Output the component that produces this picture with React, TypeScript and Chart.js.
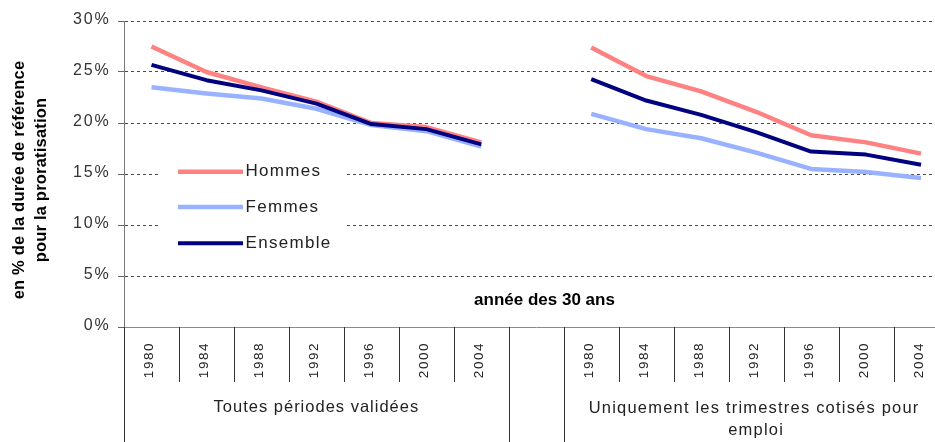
import React, { useEffect, useRef } from 'react';
import { Chart, registerables } from 'chart.js';

Chart.register(...registerables);

// ---- data ----
const years = ['1980', '1984', '1988', '1992', '1996', '2000', '2004'];
const groupToutes = 'Toutes périodes validées';
const groupCotises = ['Uniquement les trimestres cotisés pour', 'emploi'];
const yTicks = [0, 5, 10, 15, 20, 25, 30];
const axisTitle = ['en % de la durée de référence', 'pour la proratisation'];
const xTitle = 'année des 30 ans';

const hommesToutes = [27.5, 25.0, 23.5, 22.1, 20.0, 19.6, 18.1];
const femmesToutes = [23.5, 22.9, 22.4, 21.4, 19.8, 19.2, 17.7];
const ensembleToutes = [25.7, 24.2, 23.2, 21.9, 19.9, 19.4, 17.9];

const hommesCotises = [27.4, 24.6, 23.1, 21.1, 18.8, 18.1, 17.0];
const femmesCotises = [20.9, 19.4, 18.5, 17.1, 15.5, 15.2, 14.6];
const ensembleCotises = [24.3, 22.2, 20.8, 19.1, 17.2, 16.9, 15.9];

const seriesNames = ['Hommes', 'Femmes', 'Ensemble'];
const seriesColors = ['#FF8282', '#98B2FF', '#000080'];

const categories = [...years, '', ...years];
const joinGroups = (a: number[], b: number[]) => [...a, null, ...b];

const FONT = '"Liberation Sans", Arial, sans-serif';

const overlay = {
  id: 'overlay',
  afterDraw(chart: any) {
    const ctx: CanvasRenderingContext2D = chart.ctx;
    const xs = chart.scales.x;
    const ys = chart.scales.y;
    const area = chart.chartArea;
    const step = xs.getPixelForValue(1) - xs.getPixelForValue(0);
    const n = categories.length;
    const c: any = ctx;
    ctx.save();

    // y tick labels
    ctx.font = `16px ${FONT}`;
    ctx.fillStyle = '#333';
    ctx.textAlign = 'right';
    ctx.textBaseline = 'middle';
    c.letterSpacing = '1.8px';
    yTicks.forEach((v) => ctx.fillText(v + '%', 110.5, ys.getPixelForValue(v) - 1));

    // y title (rotated)
    ctx.font = `bold 16.5px ${FONT}`;
    ctx.fillStyle = '#000';
    ctx.textAlign = 'center';
    ctx.textBaseline = 'alphabetic';
    c.letterSpacing = '0.2px';
    [23.5, 46].forEach((bx, i) => {
      ctx.save();
      ctx.translate(bx, 180);
      ctx.rotate(-Math.PI / 2);
      ctx.fillText(axisTitle[i], 0, 0);
      ctx.restore();
    });

    // category dividers
    const bounds: number[] = [];
    for (let i = 0; i < n; i++) bounds.push(xs.getPixelForValue(i) - step / 2);
    bounds.push(xs.getPixelForValue(n - 1) + step / 2);
    ctx.strokeStyle = '#333';
    ctx.lineWidth = 1;
    bounds.forEach((b, i) => {
      const full = i === 0 || i === 7 || i === 8 || i === n;
      const xx = Math.round(b) + 0.5;
      ctx.beginPath();
      ctx.moveTo(xx, area.bottom);
      ctx.lineTo(xx, full ? 442 : 382);
      ctx.stroke();
    });

    // year labels
    ctx.font = `13.5px ${FONT}`;
    ctx.fillStyle = '#222';
    ctx.textAlign = 'center';
    ctx.textBaseline = 'alphabetic';
    c.letterSpacing = '1.6px';
    categories.forEach((lab, i) => {
      if (!lab) return;
      ctx.save();
      ctx.translate(xs.getPixelForValue(i) + 1.5, 360);
      ctx.rotate(-Math.PI / 2);
      ctx.fillText(lab, 0, 0);
      ctx.restore();
    });

    // group labels
    ctx.font = `16.5px ${FONT}`;
    c.letterSpacing = '1px';
    ctx.fillText(groupToutes, (bounds[0] + bounds[7]) / 2, 412);
    const g2 = (bounds[8] + bounds[n]) / 2;
    c.letterSpacing = '1.2px';
    ctx.fillText(groupCotises[0], g2 - 2, 413);
    ctx.fillText(groupCotises[1], g2, 435);

    // x title
    ctx.font = `bold 17px ${FONT}`;
    ctx.fillStyle = '#000';
    c.letterSpacing = '0px';
    ctx.fillText(xTitle, 544.5, 305);

    // legend
    ctx.fillStyle = '#fff';
    ctx.fillRect(160, 140, 185, 122);
    const ly = [171.7, 207, 243.3];
    seriesNames.forEach((name, i) => {
      ctx.strokeStyle = seriesColors[i];
      ctx.lineWidth = i === 2 ? 4 : 4.5;
      ctx.beginPath();
      ctx.moveTo(178, ly[i]);
      ctx.lineTo(243, ly[i]);
      ctx.stroke();
      ctx.font = `17px ${FONT}`;
      ctx.fillStyle = '#222';
      ctx.textAlign = 'left';
      c.letterSpacing = '1.3px';
      ctx.fillText(name, 245.5, ly[i] + 4.5);
    });

    c.letterSpacing = '0px';
    ctx.restore();
  },
};

export default function App() {
  const ref = useRef<HTMLCanvasElement>(null);

  useEffect(() => {
    if (!ref.current) return;
    const hommes = joinGroups(hommesToutes, hommesCotises);
    const femmes = joinGroups(femmesToutes, femmesCotises);
    const ensemble = joinGroups(ensembleToutes, ensembleCotises);
    const mk = (label: string, data: any[], color: string, width: number) => ({
      label,
      data,
      borderColor: color,
      backgroundColor: color,
      borderWidth: width,
      pointRadius: 0,
      pointHoverRadius: 0,
      tension: 0,
      fill: false,
      spanGaps: false,
      borderJoinStyle: 'round' as const,
    });
    const chart = new Chart(ref.current, {
      type: 'line',
      data: {
        labels: categories,
        datasets: [
          mk(seriesNames[2], ensemble, seriesColors[2], 4),
          mk(seriesNames[0], hommes, seriesColors[0], 4.5),
          mk(seriesNames[1], femmes, seriesColors[1], 4.5),
        ],
      },
      options: {
        animation: false,
        responsive: false,
        devicePixelRatio: 1,
        layout: { padding: { top: 21, left: 0, right: 1.5, bottom: 0 } },
        plugins: {
          legend: { display: false },
          tooltip: { enabled: false },
          title: { display: false },
        },
        events: [],
        scales: {
          x: {
            type: 'category',
            offset: true,
            grid: { display: false },
            ticks: { display: false },
            border: { display: true, color: '#8a8a8a', width: 1 },
            afterFit: (s: any) => {
              s.height = 115;
            },
          },
          y: {
            min: 0,
            max: 30,
            ticks: { display: false, stepSize: 5 },
            grid: {
              color: '#4a4a4a',
              lineWidth: 1,
              drawTicks: true,
              tickLength: 6,
              tickColor: '#666',
            },
            border: { display: true, color: '#777', width: 1, dash: [3, 3] },
            afterFit: (s: any) => {
              s.width = 124;
            },
          },
        },
      },
      plugins: [overlay],
    });
    return () => chart.destroy();
  }, []);

  return (
    <div
      style={{
        position: 'absolute',
        left: 0,
        top: 0,
        width: 935,
        height: 442,
        overflow: 'hidden',
        background: '#fff',
      }}
    >
      <canvas ref={ref} width={950} height={442} style={{ display: 'block', width: 950, height: 442 }} />
    </div>
  );
}
